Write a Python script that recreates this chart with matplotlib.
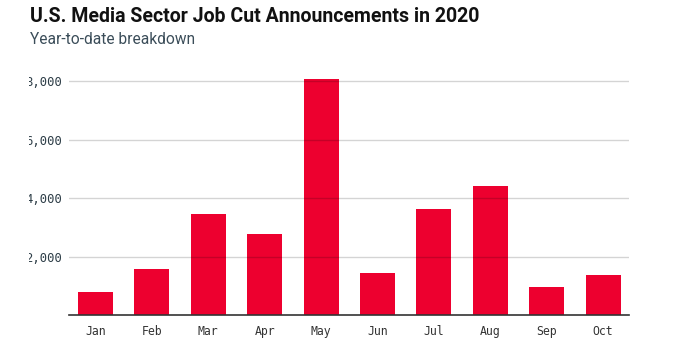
import matplotlib
matplotlib.use("Agg")
import matplotlib.pyplot as plt
from matplotlib.transforms import Bbox, TransformedBbox

months = ["Jan", "Feb", "Mar", "Apr", "May", "Jun", "Jul", "Aug", "Sep", "Oct"]
job_cuts = [790, 1575, 3455, 2770, 8080, 1440, 3630, 4415, 960, 1370]
y_ticks = [2000, 4000, 6000, 8000]
y_labels = ["2,000", "4,000", "6,000", "8,000"]

W, H = 675, 355
fig = plt.figure(figsize=(W / 100, H / 100), dpi=100)
ax = fig.add_axes([69 / W, 1 - 315 / H, 560 / W, (315 - 75.5) / H])

x = range(len(months))
ax.bar(x, job_cuts, width=0.62, color="#ED002F", zorder=1)

ax.set_xlim(-0.47, len(months) - 0.54)
ax.set_ylim(0, 8200)
ax.set_yticks(y_ticks)
ax.set_yticklabels(y_labels)
ax.set_xticks(list(x))
ax.set_xticklabels(months)

mono = "DejaVu Sans Mono"
ax.tick_params(axis="y", length=0, pad=5, labelsize=8.8, labelcolor="#2E3E48")
ax.tick_params(axis="x", length=0, pad=7, labelsize=8.3, labelcolor="#333333")
for lab in ax.get_yticklabels() + ax.get_xticklabels():
    lab.set_fontfamily(mono)

ax.grid(axis="y", color="black", alpha=0.17, lw=1)
ax.set_axisbelow(False)
ax.grid(axis="x", visible=False)

for side in ["top", "right", "left"]:
    ax.spines[side].set_visible(False)
ax.spines["bottom"].set_color("#333333")
ax.spines["bottom"].set_linewidth(1.2)

title = fig.text(30 / W, 1 - 16 / H, "U.S. Media Sector Job Cut Announcements in 2020",
                 fontfamily="Roboto", fontweight="bold", fontsize=15, color="#111111",
                 va="center", ha="left")
sub = fig.text(30 / W, 1 - 39 / H, "Year-to-date breakdown",
               fontfamily="Roboto", fontsize=10, color="#3B4D59",
               va="center", ha="left")

# fit title widths to the reference
fig.canvas.draw()
r = fig.canvas.get_renderer()
for t, target in [(title, 452), (sub, 164)]:
    w = t.get_window_extent(r).width
    t.set_fontsize(t.get_fontsize() * target / w)

# the left edge of the y labels is cut off in the original
clip = TransformedBbox(Bbox([[29 / W, 0], [1, 1]]), fig.transFigure)
for lab in ax.get_yticklabels():
    lab.set_clip_box(clip)
    lab.set_clip_on(True)

fig.savefig("out.png", dpi=100)
